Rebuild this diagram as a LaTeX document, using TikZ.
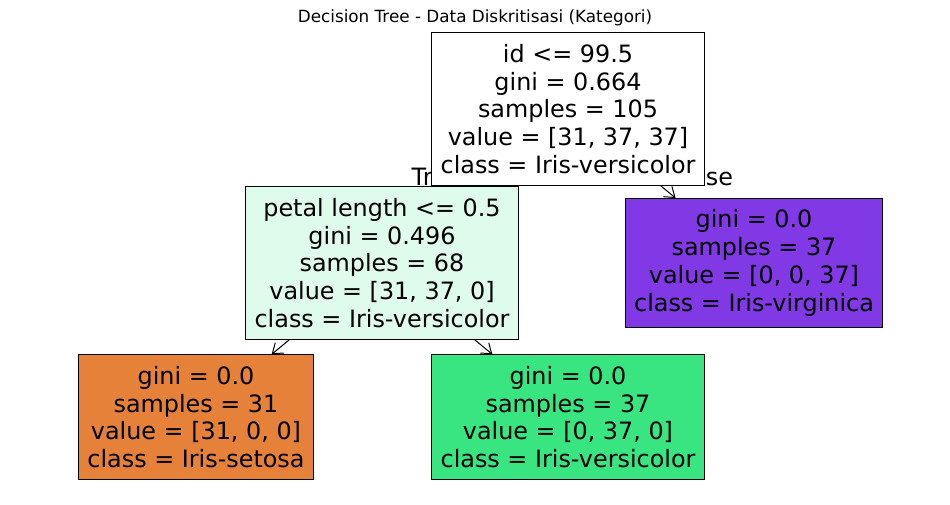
\documentclass[tikz,border=0pt]{standalone}
\usepackage{fontspec}
\setmainfont{DejaVu Sans}
\usetikzlibrary{arrows.meta}

\definecolor{setosa}{HTML}{E58139}
\definecolor{versi}{HTML}{39E581}
\definecolor{versilight}{HTML}{DFFBEB}
\definecolor{virgi}{HTML}{8139E5}

\tikzset{
  treebox/.style={draw=black, line width=0.75pt, align=center, inner xsep=6.5pt, inner ysep=8.5pt,
    font=\fontsize{17.9pt}{20.8pt}\selectfont},
  treearrow/.style={-{Straight Barb[length=7pt,width=10pt]}, line width=0.75pt}
}

\begin{document}
\begin{tikzpicture}[x=0.75pt,y=-0.75pt]
            \useasboundingbox (0,0) rectangle (950,504);

            \node (title) at (475,18) {\fontsize{12.6pt}{14pt}\selectfont Decision Tree - Data Diskritisasi (Kategori)};

            \node[font=\fontsize{17.9pt}{20.8pt}\selectfont] (truelbl) at (437,177) {True};
            \node[font=\fontsize{17.9pt}{20.8pt}\selectfont] (falselbl) at (703,177) {False};

            \node[treebox, fill=white] (root) at (568,109)
              {id <= 99.5\\gini = 0.664\\samples = 105\\value = [31, 37, 37]\\class = Iris-versicolor};
            \node[treebox, fill=versilight] (petal) at (382,263)
              {petal length <= 0.5\\gini = 0.496\\samples = 68\\value = [31, 37, 0]\\class = Iris-versicolor};
            \node[treebox, fill=virgi] (virg) at (754,263)
              {gini = 0.0\\samples = 37\\value = [0, 0, 37]\\class = Iris-virginica};
            \node[treebox, fill=setosa] (seto) at (196,417)
              {gini = 0.0\\samples = 31\\value = [31, 0, 0]\\class = Iris-setosa};
            \node[treebox, fill=versi] (vers) at (568,417)
              {gini = 0.0\\samples = 37\\value = [0, 37, 0]\\class = Iris-versicolor};

            \draw[treearrow] (root) -- (virg);
            \draw[treearrow] (petal) -- (seto);
            \draw[treearrow] (petal) -- (vers);
        \end{tikzpicture}
\end{document}
